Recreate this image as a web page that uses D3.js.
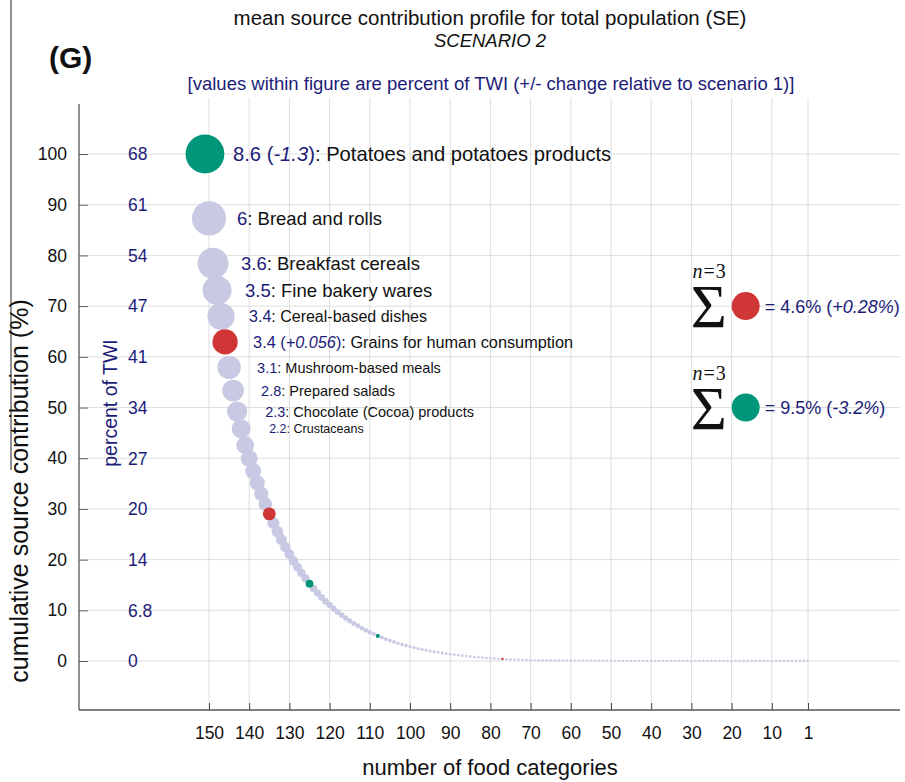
<!DOCTYPE html>
<html>
<head>
<meta charset="utf-8">
<script src="https://cdn.jsdelivr.net/npm/d3@7"></script>
<style>
  body { margin: 0; background: #fff; }
  svg { display: block; font-family: "Liberation Sans", Arial, sans-serif; }
</style>
</head>
<body>
<div id="vizArea"></div>
<script>
// top 10 food categories, in rank order, with their percent of TWI
const categories = [
  "Potatoes and potatoes products", "Bread and rolls", "Breakfast cereals",
  "Fine bakery wares", "Cereal-based dishes", "Grains for human consumption",
  "Mushroom-based meals", "Prepared salads", "Chocolate (Cocoa) products", "Crustaceans"
];
const topValues = [8.6, 6, 3.6, 3.5, 3.4, 3.4, 3.1, 2.8, 2.3, 2.2];
// change relative to scenario 1 (only given for the highlighted ones)
const topChanges = [-1.3, null, null, null, null, 0.056, null, null, null, null];

// ranks 11..151, percent of TWI
const restValues = [
  1.78, 1.67, 1.57, 1.47, 1.38, 1.30, 1.22, 1.14, 1.07, 1.01,
  0.95, 0.89, 0.83, 0.78, 0.74, 0.69, 0.65, 0.61, 0.57, 0.54,
  0.50, 0.47, 0.44, 0.42, 0.39, 0.37, 0.35, 0.32, 0.30, 0.29,
  0.27, 0.25, 0.24, 0.22, 0.21, 0.20, 0.18, 0.17, 0.16, 0.15,
  0.14, 0.13, 0.125, 0.117, 0.11, 0.103, 0.097, 0.091, 0.085, 0.08,
  0.075, 0.071, 0.066, 0.062, 0.058, 0.055, 0.051, 0.048, 0.045, 0.043,
  0.04, 0.037, 0.034, 0.031, 0.025, 0.023, 0.021, 0.019, 0.017, 0.015,
  0.014, 0.012, 0.011, 0.01, 0.009, 0.008, 0.007, 0.006, 0.006, 0.005,
  0.005, 0.004, 0.004, 0.004, 0.003, 0.003, 0.003, 0.002, 0.002, 0.002,
  0.002, 0.002, 0.0015, 0.0015, 0.0014, 0.0013, 0.0012, 0.0012, 0.0011, 0.001,
  0.001, 0.0009, 0.0009, 0.0008, 0.0008, 0.0008, 0.0007, 0.0007, 0.0007, 0.0006,
  0.0006, 0.0006, 0.0005, 0.0005, 0.0005, 0.0005, 0.0004, 0.0004, 0.0004, 0.0004,
  0.0003, 0.0003, 0.0003, 0.0003, 0.0003, 0.0002, 0.0002, 0.0002, 0.0002, 0.0002,
  0.0002, 0.0001, 0.0001, 0.0001, 0.0001, 0.0001, 0.0001, 0.0001, 0.0001, 0.0001, 0.0001
];

// highlighted ranks (n=3 each)
const redRanks = [6, 17, 75];
const greenRanks = [1, 27, 44];
const sumValues = [4.6, 9.5];       // red, green
const sumChanges = [0.28, -3.2];

const yTicks = [0, 10, 20, 30, 40, 50, 60, 70, 80, 90, 100];
const twiTickLabels = ["0", "6.8", "14", "20", "27", "34", "41", "47", "54", "61", "68"];
const xTicks = [150, 140, 130, 120, 110, 100, 90, 80, 70, 60, 50, 40, 30, 20, 10, 1];

const width = 905, height = 782;
const frame = {left: 79, right: 900, top: 104, bottom: 710, gridTop: 98};
const navy = "#1c1c78", lavender = "#c8c9e3", red = "#d13636", green = "#00967a";
const colours = {base: lavender, red: red, green: green};

const svg = d3.select("#vizArea")
    .append("svg")
    .attr("width", width)
    .attr("height", height);

const x = d3.scaleLinear().domain([150, 1]).range([209, 808]);
const y = d3.scaleLinear().domain([0, 100]).range([661, 154]);
// marker radius follows the cumulative value
const r = d3.scaleLinear().domain([0, 100]).range([1.15, 19.4]);

const values = topValues.concat(restValues);
const total = d3.sum(values);
const remaining = Array.from(d3.cumsum(values.slice().reverse())).reverse();
const points = values.map((v, i) => ({
    rank: i + 1,
    n: values.length - i,
    value: v,
    pct: remaining[i] / total * 100,
    colour: redRanks.includes(i + 1) ? "red" : greenRanks.includes(i + 1) ? "green" : "base"
}));

// grid
svg.append("g")
    .selectAll("line")
    .data(yTicks)
    .join("line")
    .attr("x1", frame.left + 9).attr("x2", frame.right)
    .attr("y1", d => y(d)).attr("y2", d => y(d))
    .attr("stroke", "#dedede");
svg.append("g")
    .selectAll("line")
    .data(xTicks)
    .join("line")
    .attr("x1", d => x(d)).attr("x2", d => x(d))
    .attr("y1", frame.gridTop).attr("y2", frame.bottom)
    .attr("stroke", "#dedede");

// axes
const yAxis = svg.append("g")
    .attr("transform", `translate(${frame.left},0)`)
    .call(d3.axisLeft(y).tickValues(yTicks).tickSizeInner(-9).tickSizeOuter(0).tickPadding(12));
yAxis.select(".domain").remove();
yAxis.selectAll(".tick line").attr("stroke", "#555");
yAxis.selectAll(".tick text")
    .attr("font-size", 17.5)
    .attr("font-family", "Liberation Sans, Arial, sans-serif")
    .attr("fill", "#111");

const xAxis = svg.append("g")
    .attr("transform", `translate(0,${frame.bottom})`)
    .call(d3.axisBottom(x).tickValues(xTicks).tickFormat(d3.format("d")).tickSizeInner(-7).tickSizeOuter(0).tickPadding(17));
xAxis.select(".domain").remove();
xAxis.selectAll(".tick line").attr("stroke", "#444");
xAxis.selectAll(".tick text")
    .attr("font-size", 17.5)
    .attr("font-family", "Liberation Sans, Arial, sans-serif")
    .attr("fill", "#111");

svg.append("line")
    .attr("x1", frame.left).attr("x2", frame.left)
    .attr("y1", frame.top).attr("y2", frame.bottom)
    .attr("stroke", "#555").attr("stroke-width", 1.3);
svg.append("line")
    .attr("x1", frame.left).attr("x2", frame.right)
    .attr("y1", frame.bottom).attr("y2", frame.bottom)
    .attr("stroke", "#555").attr("stroke-width", 1.3);
// page edge line on the left
svg.append("line")
    .attr("x1", 11).attr("x2", 11)
    .attr("y1", 0).attr("y2", 470)
    .attr("stroke", "#555").attr("stroke-width", 1.3);

// percent of TWI labels next to the y ticks
svg.append("g")
    .selectAll("text")
    .data(yTicks)
    .join("text")
    .attr("x", 128)
    .attr("y", d => y(d))
    .attr("dy", "0.36em")
    .attr("font-size", 17.5)
    .attr("fill", navy)
    .text((d, i) => twiTickLabels[i]);

svg.append("text")
    .attr("transform", "translate(117,403) rotate(-90)")
    .attr("text-anchor", "middle")
    .attr("font-size", 19.5)
    .attr("fill", navy)
    .text("percent of TWI");

// bubbles: plain ones first, highlighted on top
svg.append("g")
    .selectAll("circle")
    .data(points.filter(d => d.colour === "base"))
    .join("circle")
    .attr("cx", d => x(d.n))
    .attr("cy", d => y(d.pct))
    .attr("r", d => r(d.pct))
    .attr("fill", lavender);
svg.append("g")
    .selectAll("circle")
    .data(points.filter(d => d.colour !== "base"))
    .join("circle")
    .attr("cx", d => x(d.n))
    .attr("cy", d => y(d.pct))
    .attr("r", d => r(d.pct))
    .attr("fill", d => colours[d.colour]);

// labels for the top 10
const fmtVal = d3.format(".2~g");
const signed = d3.formatLocale({decimal: ".", thousands: ",", grouping: [3], currency: ["", ""], minus: "-"}).format("+.2~g");
const labelSizes = [20.2, 18.5, 18.5, 18.5, 16, 16.3, 14.5, 14.5, 14.5, 12.5];

svg.append("g")
    .selectAll("text")
    .data(points.slice(0, categories.length))
    .join("text")
    .attr("x", d => x(d.n) + 28)
    .attr("y", d => y(d.pct))
    .attr("dy", "0.36em")
    .attr("font-size", (d, i) => labelSizes[i])
    .each(function (d, i) {
        const t = d3.select(this);
        t.append("tspan").attr("fill", navy).text(fmtVal(d.value));
        if (topChanges[i] !== null) {
            t.append("tspan").attr("fill", navy).text(" (");
            t.append("tspan").attr("fill", navy).attr("font-style", "italic").text(signed(topChanges[i]));
            t.append("tspan").attr("fill", navy).text(")");
        }
        t.append("tspan").attr("fill", "#111").text(": " + categories[i]);
    });

// n=3 sums on the right
const sums = svg.append("g")
    .selectAll("g")
    .data([{colour: red, v: sumValues[0], c: sumChanges[0], at: 70},
           {colour: green, v: sumValues[1], c: sumChanges[1], at: 50}])
    .join("g")
    .attr("transform", d => `translate(${x(16.5)},${y(d.at)})`);

sums.append("text")
    .attr("x", -37).attr("y", 21)
    .attr("text-anchor", "middle")
    .attr("font-family", "Liberation Serif, DejaVu Serif, serif")
    .attr("font-size", 62)
    .attr("fill", "#111")
    .text("Σ");
sums.append("text")
    .attr("x", -36).attr("y", -28)
    .attr("text-anchor", "middle")
    .attr("font-family", "Liberation Serif, DejaVu Serif, serif")
    .attr("font-size", 20)
    .attr("letter-spacing", 1)
    .attr("fill", "#111")
    .call(t => {
        t.append("tspan").attr("font-style", "italic").text("n");
        t.append("tspan").text("=3");
    });
sums.append("circle")
    .attr("r", 14)
    .attr("fill", d => d.colour);
sums.append("text")
    .attr("x", 19)
    .attr("dy", "0.36em")
    .attr("font-size", 18)
    .attr("fill", navy)
    .call(t => {
        t.append("tspan").text(d => "= " + d.v + "% (");
        t.append("tspan").attr("font-style", "italic").text(d => signed(d.c) + "%");
        t.append("tspan").text(")");
    });

// titles
svg.append("text")
    .attr("x", 490).attr("y", 25)
    .attr("text-anchor", "middle")
    .attr("font-size", 20.5)
    .attr("fill", "#111")
    .text("mean source contribution profile for total population (SE)");
svg.append("text")
    .attr("x", 490).attr("y", 47)
    .attr("text-anchor", "middle")
    .attr("font-size", 18.5)
    .attr("font-style", "italic")
    .attr("fill", "#111")
    .text("SCENARIO 2");
svg.append("text")
    .attr("x", 49).attr("y", 68)
    .attr("font-size", 30)
    .attr("font-weight", "bold")
    .attr("fill", "#111")
    .text("(G)");
svg.append("text")
    .attr("x", 491).attr("y", 90)
    .attr("text-anchor", "middle")
    .attr("font-size", 18.5)
    .attr("fill", navy)
    .text("[values within figure are percent of TWI (+/- change relative to scenario 1)]");

// axis titles
svg.append("text")
    .attr("x", 490).attr("y", 775)
    .attr("text-anchor", "middle")
    .attr("font-size", 22)
    .attr("fill", "#111")
    .text("number of food categories");
svg.append("text")
    .attr("transform", "translate(28,491) rotate(-90)")
    .attr("text-anchor", "middle")
    .attr("font-size", 25)
    .attr("fill", "#111")
    .text("cumulative source contribution (%)");
</script>
</body>
</html>
